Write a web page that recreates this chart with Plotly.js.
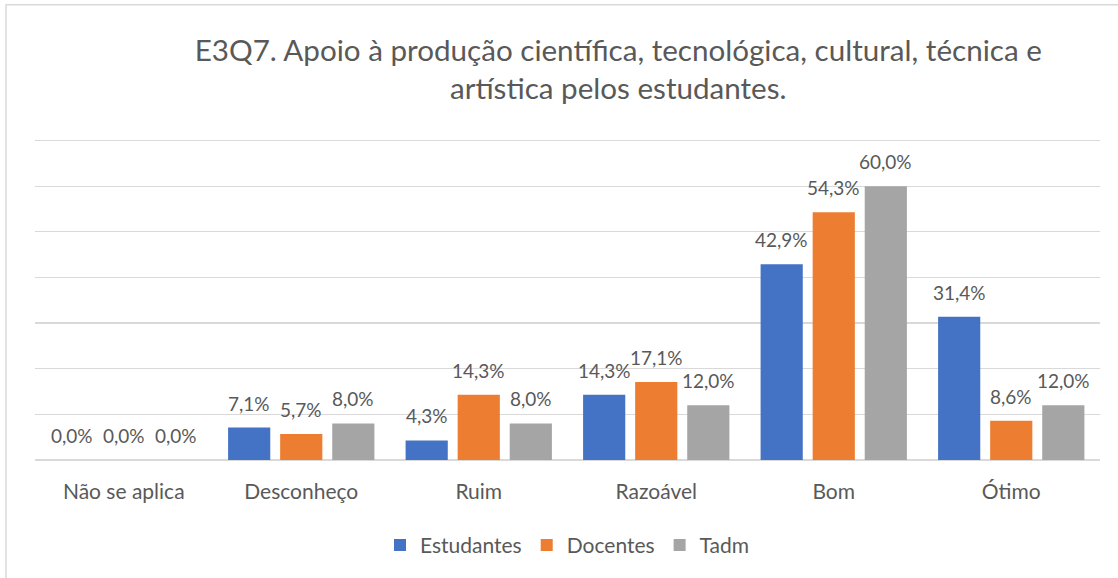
<!DOCTYPE html>
<html>
<head>
<meta charset="utf-8">
<script src="https://cdn.plot.ly/plotly-3.0.1.min.js"></script>
<style>
  body { margin: 0; background: #fff; }
  #chart { width: 1118px; height: 578px; }
</style>
</head>
<body>
<div id="chart"></div>
<script>
// Categories and series (percent)
const categories = ['Não se aplica', 'Desconheço', 'Ruim', 'Razoável', 'Bom', 'Ótimo'];
const estudantes = [0.0, 7.1, 4.3, 14.3, 42.9, 31.4];
const docentes = [0.0, 5.7, 14.3, 17.1, 54.3, 8.6];
const tadm = [0.0, 8.0, 8.0, 12.0, 60.0, 12.0];

const seriesNames = ['Estudantes', 'Docentes', 'Tadm'];
const seriesColors = ['#4472C4', '#ED7D31', '#A5A5A5'];
const seriesValues = [estudantes, docentes, tadm];

const textColor = '#595959';
const fontFamily = 'Lato, "Open Sans", sans-serif';

const traces = seriesNames.map((name, i) => ({
    type: 'bar',
    name: name,
    x: categories,
    y: seriesValues[i],
    marker: {color: seriesColors[i]},
    hoverinfo: 'x+y+name'
}));

// Data labels sit a bit higher above the bars than Plotly's outside text does
const labels = [];
seriesValues.forEach((values, i) => {
    values.forEach((v, j) => {
        labels.push({
            x: categories[j],
            y: v,
            xref: 'x',
            yref: 'y',
            text: v.toFixed(1).replace('.', ',') + '%',
            showarrow: false,
            xanchor: 'center',
            yanchor: 'bottom',
            xshift: (i - 1) * 52,
            yshift: 11,
            font: {size: 19, color: textColor, family: fontFamily}
        });
    });
});

const layout = {
    width: 1118,
    height: 578,
    margin: {l: 35, r: 18, t: 136, b: 115},
    paper_bgcolor: '#ffffff',
    plot_bgcolor: '#ffffff',
    font: {family: fontFamily, color: textColor},
    title: {
        text: 'E3Q7. Apoio à produção científica, tecnológica, cultural, técnica e<br>artística pelos estudantes.',
        font: {size: 29.6, color: textColor, family: fontFamily},
        xref: 'container',
        x: 0.553,
        xanchor: 'center',
        yref: 'container',
        y: 0.895,
        yanchor: 'top'
    },
    barmode: 'group',
    bargap: 0.12,
    bargroupgap: 0.19,
    xaxis: {
        showline: false,
        ticks: '',
        tickfont: {size: 21, color: textColor},
        ticklabelstandoff: 17,
        fixedrange: true
    },
    yaxis: {
        range: [0, 71],
        dtick: 10,
        showticklabels: false,
        showgrid: true,
        gridcolor: '#D9D9D9',
        gridwidth: 1.3,
        zeroline: true,
        zerolinecolor: '#D9D9D9',
        zerolinewidth: 1.3,
        fixedrange: true
    },
    legend: {
        orientation: 'h',
        x: 0.5,
        xanchor: 'center',
        y: -0.2,
        yanchor: 'top',
        font: {size: 21, color: textColor},
        itemwidth: 30,
        traceorder: 'normal'
    },
    annotations: labels,
    shapes: [{
        type: 'rect',
        xref: 'paper', yref: 'paper',
        x0: -0.0272, x1: 1.05,
        y0: -0.4, y1: 1.405,
        line: {color: '#D9D9D9', width: 1.5},
        fillcolor: 'rgba(0,0,0,0)',
        layer: 'below'
    }]
};

Plotly.newPlot('chart', traces, layout, {displayModeBar: false, staticPlot: true});
</script>
</body>
</html>
